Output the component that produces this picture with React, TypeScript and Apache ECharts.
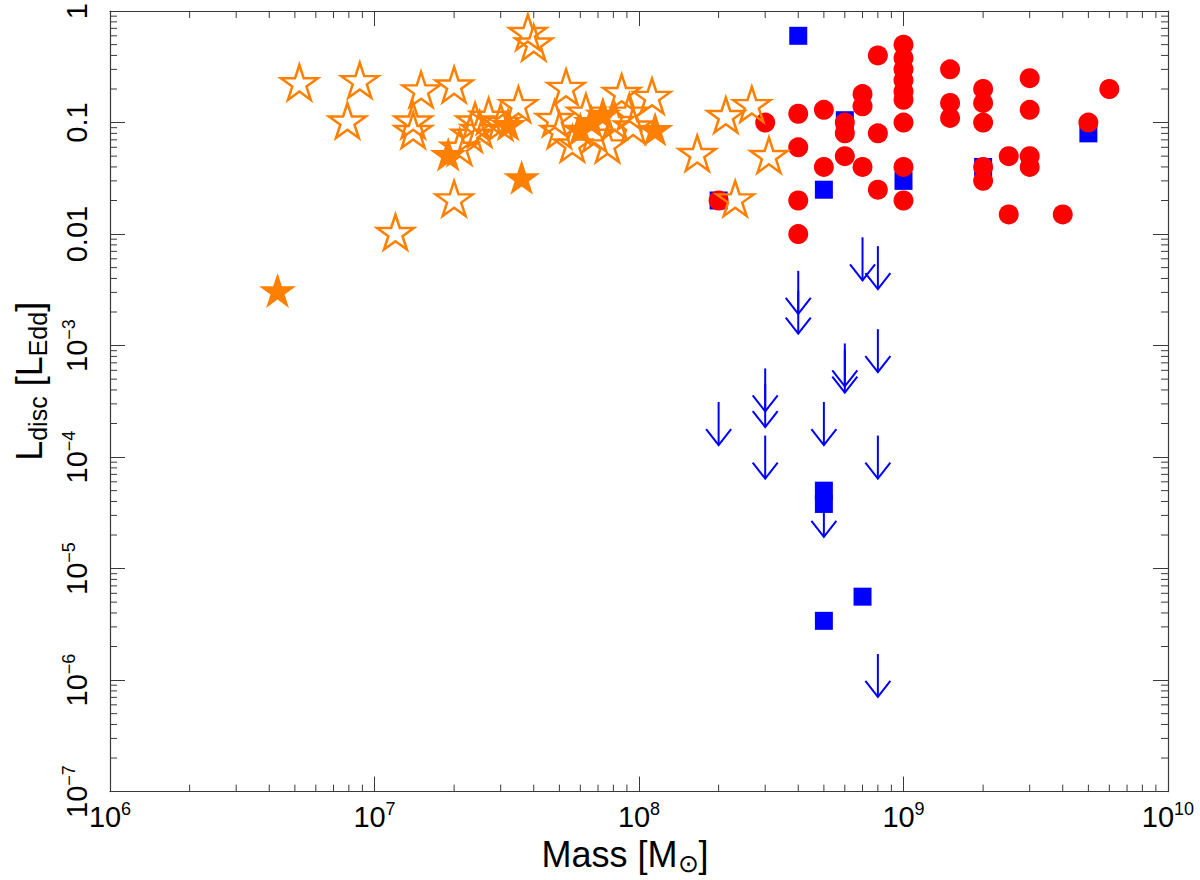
import React, { useEffect, useRef } from 'react';
import * as echarts from 'echarts';

const FONT = '"Liberation Sans", Arial, Helvetica, sans-serif';
const ORANGE = '#ff8000';
const RED = '#ff0000';
const BLUE = '#0000ff';
const AXIS = '#3a3a3a';

const X_MIN = 1e6;
const X_MAX = 1e10;
const Y_MIN = 1e-7;
const Y_MAX = 1;

// tick labels: [base, superscript] indexed by decade
const xTickLabels: string[][] = [['10', '6'], ['10', '7'], ['10', '8'], ['10', '9'], ['10', '10']];
const yTickLabels: string[][] = [
  ['10', '−7'], ['10', '−6'], ['10', '−5'], ['10', '−4'], ['10', '−3'],
  ['0.01', ''], ['0.1', ''], ['1', ''],
];

// [mass (Msun), L_disc / L_Edd]
const openStars: number[][] = [
  [5.2e6, 0.22], [8.8e6, 0.23], [7.9e6, 0.1], [1.5e7, 0.19], [2.0e7, 0.21],
  [1.4e7, 0.1], [1.4e7, 0.082], [2.1e7, 0.058], [2.0e7, 0.02], [1.2e7, 0.01],
  [2.4e7, 0.1], [2.7e7, 0.11], [2.5e7, 0.084], [2.3e7, 0.076], [3.5e7, 0.14],
  [3.8e7, 0.62], [4.0e7, 0.5], [5.3e7, 0.2], [6.3e7, 0.12], [4.8e7, 0.105],
  [5.0e7, 0.082], [5.6e7, 0.062], [7.6e7, 0.061], [8.6e7, 0.18], [9.2e7, 0.12],
  [9.5e7, 0.09], [8.1e7, 0.099], [6.8e7, 0.076], [1.12e8, 0.166], [1.66e8, 0.051],
  [2.13e8, 0.112], [2.67e8, 0.14], [3.1e8, 0.049], [2.31e8, 0.02], [3.0e7, 0.097],
];

const filledStars: number[][] = [
  [4.3e6, 0.003], [1.9e7, 0.05], [3.2e7, 0.093], [3.6e7, 0.031], [1.15e8, 0.084],
  [7.3e7, 0.115], [6.0e7, 0.084], [6.6e7, 0.099],
];

const redCircles: number[][] = [
  [2e8, 0.02], [3e8, 0.1],
  [4e8, 0.12], [4e8, 0.06], [4e8, 0.02], [4e8, 0.01],
  [5e8, 0.13], [5e8, 0.04],
  [6e8, 0.1], [6e8, 0.08], [6e8, 0.05],
  [7e8, 0.18], [7e8, 0.14], [7e8, 0.04],
  [8e8, 0.4], [8e8, 0.08], [8e8, 0.025],
  [1e9, 0.5], [1e9, 0.38], [1e9, 0.3], [1e9, 0.24], [1e9, 0.19], [1e9, 0.16],
  [1e9, 0.1], [1e9, 0.04], [1e9, 0.02],
  [1.5e9, 0.3], [1.5e9, 0.15], [1.5e9, 0.11],
  [2e9, 0.2], [2e9, 0.15], [2e9, 0.1], [2e9, 0.04], [2e9, 0.03],
  [2.5e9, 0.05], [2.5e9, 0.015],
  [3e9, 0.25], [3e9, 0.13], [3e9, 0.05], [3e9, 0.04],
  [4e9, 0.015], [5e9, 0.1], [6e9, 0.2],
];

const blueSquares: number[][] = [
  [2e8, 0.02], [4e8, 0.6], [5e8, 0.025], [6e8, 0.105], [1e9, 0.03], [2e9, 0.04],
  [5e9, 0.08], [5e8, 5e-5], [5e8, 3.8e-5], [7e8, 5.6e-6], [5e8, 3.4e-6],
];

// upper limits (arrow centred on the value)
const upperLimits: number[][] = [
  [7e8, 6e-3], [8e8, 5e-3], [4e8, 3e-3], [4e8, 2e-3], [8e8, 9e-4],
  [6e8, 6.7e-4], [6e8, 5.9e-4], [3e8, 4e-4], [3e8, 2.9e-4], [2e8, 2e-4],
  [5e8, 2e-4], [3e8, 1e-4], [8e8, 1e-4], [5e8, 3e-5], [8e8, 1.1e-6],
];

const STAR =
  'path://M0,-100L22.45,-30.9L95.11,-30.9L36.33,11.8L58.78,80.9L0,38.2L-58.78,80.9L-36.33,11.8L-95.11,-30.9L-22.45,-30.9Z';

const decade = (v: number) => Math.round(Math.log10(v));

const tickRich = {
  b: { fontSize: 29, lineHeight: 34, color: '#000', fontFamily: FONT },
  s: { fontSize: 18, lineHeight: 27, verticalAlign: 'top', color: '#000', fontFamily: FONT },
};

const titleRich = {
  t: { fontSize: 36, lineHeight: 42, color: '#000', fontFamily: FONT },
  sub: { fontSize: 25, lineHeight: 25, verticalAlign: 'bottom', color: '#000', fontFamily: FONT },
};

const fmt = (labels: string[][], first: number) => (v: number) => {
  const l = labels[decade(v) - first];
  if (!l) return '';
  return l[1] ? `{b|${l[0]}}{s|${l[1]}}` : `{b|${l[0]}}`;
};

const App: React.FC = () => {
  const chartRef = useRef<HTMLDivElement>(null);

  useEffect(() => {
    document.body.style.margin = '0';
    const chart = echarts.init(chartRef.current!, undefined, { renderer: 'svg' });

    // minor ticks at 2..9 of every decade
    const xMinor: number[][] = [];
    for (let e = 6; e < 10; e++) for (let m = 2; m <= 9; m++) xMinor.push([m * 10 ** e, Y_MIN]);
    const yMinor: number[][] = [];
    for (let e = -7; e < 0; e++) for (let m = 2; m <= 9; m++) yMinor.push([X_MIN, m * 10 ** e]);

    const tickLine = (x1: number, y1: number, x2: number, y2: number) => ({
      type: 'line',
      shape: { x1, y1, x2, y2 },
      style: { stroke: AXIS, lineWidth: 1 },
    });

    const axisCommon = {
      type: 'log',
      logBase: 10,
      splitLine: { show: false },
      axisLine: { show: true, onZero: false, lineStyle: { color: AXIS, width: 1.2 } },
      axisTick: { show: true, inside: true, length: 15, lineStyle: { color: AXIS, width: 1 } },
    };

    const option = {
      animation: false,
      backgroundColor: '#fff',
      textStyle: { fontFamily: FONT },
      grid: { left: 110, right: 32, top: 10, bottom: 85, containLabel: false },
      xAxis: [
        {
          ...axisCommon,
          min: X_MIN,
          max: X_MAX,
          splitNumber: 4,
          position: 'bottom',
          axisLabel: {
            margin: 8,
            showMinLabel: true,
            showMaxLabel: true,
            formatter: fmt(xTickLabels, 6),
            rich: tickRich,
          },
          name: '{t|Mass [M}{sub|⊙}{t|]}',
          nameLocation: 'middle',
          nameGap: 38,
          nameTextStyle: { rich: titleRich, padding: [0, 28, 0, 0] },
        },
        {
          ...axisCommon,
          min: X_MIN,
          max: X_MAX,
          splitNumber: 4,
          position: 'top',
          axisLabel: { show: false },
        },
      ],
      yAxis: [
        {
          ...axisCommon,
          min: Y_MIN,
          max: Y_MAX,
          splitNumber: 7,
          position: 'left',
          axisLabel: {
            rotate: 90,
            margin: 16,
            showMinLabel: true,
            showMaxLabel: true,
            formatter: fmt(yTickLabels, -7),
            rich: tickRich,
          },
          name: '{t|L}{sub|disc}{t| [L}{sub|Edd}{t|]}',
          nameLocation: 'middle',
          nameGap: 60,
          nameTextStyle: { rich: titleRich, padding: [0, 0, 0, 40] },
        },
        {
          ...axisCommon,
          min: Y_MIN,
          max: Y_MAX,
          splitNumber: 7,
          position: 'right',
          axisLabel: { show: false },
        },
      ],
      series: [
        {
          type: 'custom',
          name: 'xMinor',
          silent: true,
          data: xMinor,
          renderItem: (_p: any, api: any) => {
            const b = api.coord([api.value(0), Y_MIN]);
            const t = api.coord([api.value(0), Y_MAX]);
            return {
              type: 'group',
              children: [tickLine(b[0], b[1], b[0], b[1] - 7), tickLine(t[0], t[1], t[0], t[1] + 7)],
            };
          },
        },
        {
          type: 'custom',
          name: 'yMinor',
          silent: true,
          data: yMinor,
          renderItem: (_p: any, api: any) => {
            const l = api.coord([X_MIN, api.value(1)]);
            const r = api.coord([X_MAX, api.value(1)]);
            return {
              type: 'group',
              children: [tickLine(l[0], l[1], l[0] + 7, l[1]), tickLine(r[0], r[1], r[0] - 7, r[1])],
            };
          },
        },
        {
          type: 'custom',
          name: 'upper limits',
          silent: true,
          data: upperLimits,
          renderItem: (_p: any, api: any) => {
            const p = api.coord([api.value(0), api.value(1)]);
            const top = p[1] - 21.5;
            const bot = p[1] + 21.5;
            const st = { stroke: BLUE, lineWidth: 2, fill: 'none' };
            return {
              type: 'group',
              children: [
                { type: 'line', shape: { x1: p[0], y1: top, x2: p[0], y2: bot }, style: st },
                {
                  type: 'polyline',
                  shape: { points: [[p[0] - 12.5, bot - 16], [p[0], bot], [p[0] + 12.5, bot - 16]] },
                  style: st,
                },
              ],
            };
          },
        },
        {
          type: 'scatter',
          name: 'squares',
          silent: true,
          symbol: 'rect',
          symbolSize: 18,
          itemStyle: { color: BLUE, opacity: 1 },
          data: blueSquares,
        },
        {
          type: 'scatter',
          name: 'circles',
          silent: true,
          symbol: 'circle',
          symbolSize: 20,
          itemStyle: { color: RED, opacity: 1 },
          data: redCircles,
        },
        {
          type: 'scatter',
          name: 'open stars',
          silent: true,
          symbol: STAR,
          symbolSize: [37, 35],
          symbolOffset: [0, -2],
          itemStyle: { color: 'rgba(0,0,0,0)', borderColor: ORANGE, borderWidth: 2.5, opacity: 1 },
          data: openStars,
        },
        {
          type: 'scatter',
          name: 'filled stars',
          silent: true,
          symbol: STAR,
          symbolSize: [37, 35],
          symbolOffset: [0, -2],
          itemStyle: { color: ORANGE, opacity: 1 },
          data: filledStars,
        },
      ],
    };

    chart.setOption(option as any);

    return () => {
      chart.dispose();
    };
  }, []);

  return <div ref={chartRef} style={{ width: 1200, height: 880 }} />;
};

export default App;
